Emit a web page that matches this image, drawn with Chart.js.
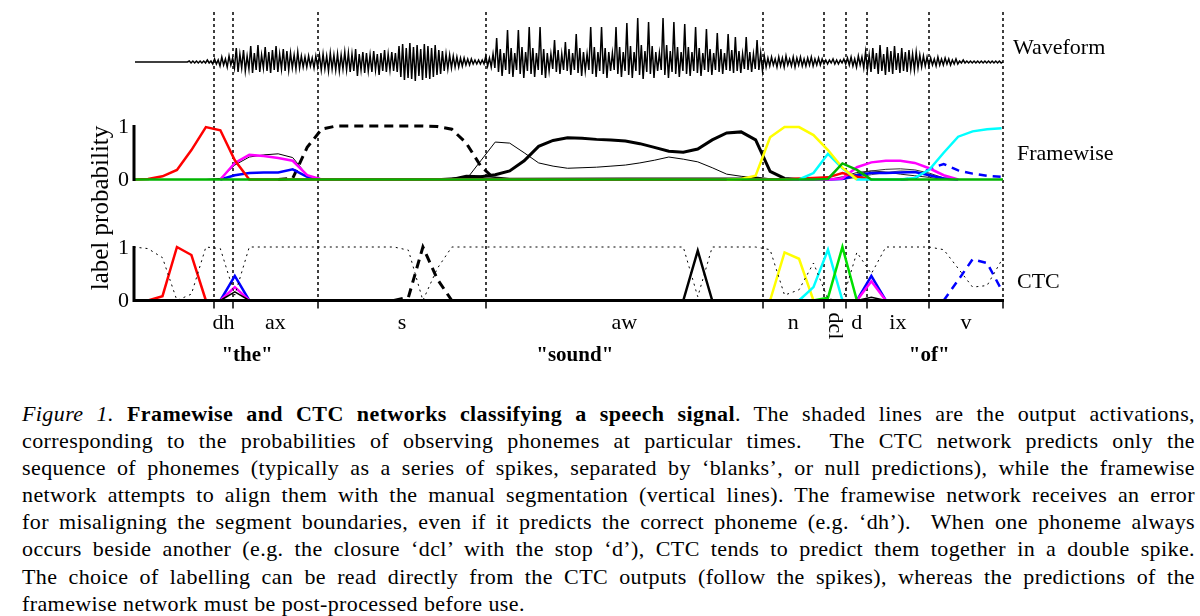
<!DOCTYPE html>
<html>
<head>
<meta charset="utf-8">
<script src="https://cdn.jsdelivr.net/npm/chart.js@4.4.0/dist/chart.umd.min.js"></script>
<style>
  html, body { margin: 0; padding: 0; background: #fff; }
  body { width: 1200px; height: 616px; position: relative; overflow: hidden; }
  #wrap { position: absolute; left: 0; top: 0; width: 1200px; height: 390px; }
  #caption { position: absolute; left: 22px; top: 400px; width: 1173px;
    font-family: "Liberation Serif", serif; font-size: 22px; line-height: 27.1px;
    letter-spacing: 0.4px; color: #000; }
  #caption div { text-align: justify; text-align-last: justify; }
  #caption div.last { text-align-last: left; }
</style>
</head>
<body>
<div id="wrap"><canvas id="speech" width="1200" height="390"></canvas></div>
<div id="caption">
<div><i>Figure 1.</i> <b>Framewise and CTC networks classifying a speech signal</b>. The shaded lines are the output activations,</div>
<div>corresponding to the probabilities of observing phonemes at particular times.&nbsp; The CTC network predicts only the</div>
<div>sequence of phonemes (typically as a series of spikes, separated by ‘blanks’, or null predictions), while the framewise</div>
<div>network attempts to align them with the manual segmentation (vertical lines). The framewise network receives an error</div>
<div>for misaligning the segment boundaries, even if it predicts the correct phoneme (e.g. ‘dh’).&nbsp; When one phoneme always</div>
<div>occurs beside another (e.g. the closure ‘dcl’ with the stop ‘d’), CTC tends to predict them together in a double spike.</div>
<div>The choice of labelling can be read directly from the CTC outputs (follow the spikes), whereas the predictions of the</div>
<div class="last">framewise network must be post-processed before use.</div>
</div>
<script>
// segmentation (in frames) and labels
var boundaries = [4.56, 5.87, 11.75, 23.36, 42.5, 46.7, 48.27, 49.7, 53.97, 59.1];
var phonemes = ['dh', 'ax', 's', 'aw', 'n', 'dcl', 'd', 'ix', 'v'];
var words = ['"the"', '"sound"', '"of"'];
var wordPos = [6.85, 29.5, 54.0];

// waveform: peak / trough per quarter frame, starting at frame -0.9
var waveStart = -0.9, waveStep = 0.25;
var waveUp = [0,0,0,0,0,0,0,0,0,0,0,0,0,0,0,
  1,1,1,1,1,2,1, 3,2,5,3,6,4,
  14,8,12,6,16,9,17,7,15,10,12,16,8,13,11,9,7,10,6,
  5,6,4,6, 7,8,6,9,7,8,7,10,
  9,8,13,8,10,9,7,11,8,9,12,8,10,9,
  16,18,14,19,15,17,13,18,16,14,17,12,11,8,
  7,6,5,4,4,3,3,2,2, 2,6,4,
  8,24,13,9,32,14,9,32,15,10,35,14,9,35,13,9,8,22,12,8,20,13,9,28,14,10,8,35,15,10,
  35,14,10,9,35,15,10,39,16,10,44,17,11,40,16,10,9,44,17,11,40,15,10,38,15,10,35,14,9,33,
  13,9,29,13,9,28,12,25,11,8,25,10,8,22,9,6,
  4,5,3,5,4,6,3,5,4,5,3,4,5,3,4,3, 2,2,3,2,2,3, 4,5,3,6,5,
  10,7,14,9,17,8,15,11,16,9,14,10,12,8,10,7,6,
  5,4,3,5,3,4,3,2,3, 1,2,1,1,1,1,1,1,1,1,1,1,0];
var waveDown = [0,0,0,0,0,0,0,0,0,0,0,0,0,0,0,
  1,1,1,1,1,1,2, 2,4,3,5,3,6,
  10,6,9,7,11,8,10,6,9,11,8,10,7,9,8,6,7,6,5,
  5,4,6,5, 8,7,9,7,8,9,7,8,
  10,9,14,8,11,9,10,8,13,9,10,8,9,10,
  15,18,16,17,19,14,18,16,17,15,13,12,9,7,
  6,5,5,4,3,3,2,2,2, 2,4,5,
  6,10,14,8,12,15,8,12,16,9,12,15,8,13,16,9,7,10,12,8,9,13,8,11,14,9,8,12,15,9,
  12,16,9,8,12,15,9,13,16,9,13,17,10,12,16,9,8,13,16,10,12,15,9,12,14,9,11,14,8,10,
  13,8,10,12,8,9,11,9,11,7,8,10,7,8,9,5,
  4,3,5,4,5,3,4,5,3,4,4,3,4,3,3,2, 2,1,2,2,1,2, 3,4,5,3,6,
  8,10,7,12,9,13,10,12,8,11,9,10,7,8,6,5,4,
  4,3,4,3,3,2,3,2,2, 1,1,1,1,1,1,1,1,1,1,1,1,0];

// framewise outputs [frame, probability]
var fwRed = [[-1,0],[0,0.01],[1,0.06],[2,0.18],[3,0.55],[4,0.98],[5,0.92],[6,0.36],[7,0],[44,0],[45,0.02],[46,0.03],[47,0.04],[48,0.12],[49,0.05],[50,0]];
var fwMagenta = [[5,0],[6,0.31],[7,0.46],[8,0.44],[9,0.4],[10,0.35],[11,0.08],[12,0],[47,0],[48,0.02],[49,0.23],[50,0.32],[51,0.35],[52,0.35],[53,0.31],[54,0.21],[55,0.08],[56,0]];
var fwBlue = [[5,0],[6,0.08],[7,0.12],[8,0.13],[9,0.13],[10,0.19],[11,0.05],[12,0],[47,0],[48,0.01],[49,0.08],[50,0.12],[51,0.12],[52,0.13],[53,0.14],[54,0.08],[55,0.02],[56,0]];
var fwThinAx = [[4,0],[5,0.02],[6,0.27],[7,0.42],[8,0.46],[9,0.48],[10,0.41],[11,0.08],[12,0]];
var fwDashS = [[9,0],[10,0.02],[11,0.6],[12,0.94],[13,1],[14,1],[15,1],[16,1],[17,1],[18,1],[19,1],[20,0.99],[21,0.94],[22,0.68],[23,0.25],[24,0]];
var fwThinAw = [[22,0],[23,0.35],[24,0.7],[25,0.68],[26,0.5],[27,0.31],[28,0.25],[29,0.21],[30,0.22],[31,0.23],[32,0.25],[33,0.27],[34,0.31],[35,0.36],[36,0.42],[37,0.38],[38,0.33],[39,0.22],[40,0.1],[41,0.06],[42,0.03],[43,0]];
var fwThickAw = [[21,0],[22,0.06],[23,0.05],[24,0.09],[25,0.16],[26,0.35],[27,0.62],[28,0.73],[29,0.78],[30,0.77],[31,0.75],[32,0.74],[33,0.72],[34,0.67],[35,0.6],[36,0.53],[37,0.51],[38,0.57],[39,0.74],[40,0.87],[41,0.89],[42,0.74],[43,0.15],[44,0.02],[45,0]];
var fwYellow = [[40,0],[41,0.01],[42,0.07],[43,0.79],[44,0.98],[45,0.98],[46,0.83],[47,0.55],[48,0.22],[49,0]];
var fwCyan = [[45,0],[46,0.12],[47,0.48],[48,0.21],[49,0],[52,0],[53,0.03],[54,0.18],[55,0.5],[56,0.8],[57,0.9],[58,0.94],[59,0.96]];
var fwGreen = [[-1,0],[46,0],[47,0.01],[48,0.3],[49,0.18],[50,0],[60,0]];
var fwBlueDash = [[52,0],[53,0.02],[54,0.2],[55,0.29],[56,0.17],[57,0.11],[58,0.07],[59,0.05]];
var fwGray1 = [[47,0],[48,0.02],[49,0.1],[50,0.16],[51,0.19],[52,0.2],[53,0.18],[54,0.12],[55,0.03],[56,0]];
var fwGray2 = [[48,0],[49,0.04],[50,0.09],[51,0.13],[52,0.16],[53,0.15],[54,0.1],[55,0.02],[56,0]];
var fwGray3 = [[47,0],[48,0.05],[49,0.13],[50,0.16],[51,0.14],[52,0.1],[53,0.07],[54,0.04],[55,0]];
var fwLow = [[15,0],[20,0.01],[22,0.04],[23,0.06],[24,0.04],[25,0.02],[41,0.03],[42,0.04],[43,0.01],[44,0]];

// CTC outputs [frame, probability]
var ctcBlank = [[-1,1],[0,0.97],[1,0.8],[2,0],[3,0.12],[4,1],[5,0.97],[6,0.1],[7,1],[17,1],[18,0.94],[19,0],[20,0.6],[21,1],[37,1],[38,0.07],[39,1],[42,1],[43,0.95],[44,0.1],[45,0.2],[46,0.7],[47,0.03],[48,0],[49,0.9],[50,0.5],[51,1],[54,1],[55,0.95],[56,0.6],[57,0.25],[58,0.28],[59,0.75]];
var ctcRed = [[0,0],[1,0.08],[2,1],[3,0.85],[4,0]];
var ctcBlue = [[5,0],[6,0.46],[7,0],[49,0],[50,0.46],[51,0]];
var ctcMagenta = [[5,0],[6,0.25],[7,0],[49,0],[50,0.36],[51,0]];
var ctcBlackSmall = [[5,0],[6,0.16],[7,0],[49,0],[50,0.06],[51,0]];
var ctcDashS = [[17,0],[18,0.06],[19,1],[20,0.4],[21,0]];
var ctcAw = [[37,0],[38,0.93],[39,0]];
var ctcYellow = [[43,0],[44,0.9],[45,0.78],[46,0]];
var ctcCyan = [[45,0],[46,0.25],[47,0.95],[48,0]];
var ctcGreen = [[46,0],[47,0.05],[48,1],[49,0]];
var ctcBlueDash = [[55,0],[56,0.38],[57,0.77],[58,0.7],[59,0.2]];

// waveform drawn as peak/trough zigzag
var wavePts = [];
waveUp.forEach(function (u, i) {
  var x = waveStart + i * waveStep;
  wavePts.push([x, u]);
  wavePts.push([x + waveStep / 2, -waveDown[i]]);
});

function line(data, axis, color, width, dash) {
  return {
    data: data.map(function (p) { return { x: p[0], y: p[1] }; }),
    yAxisID: axis, borderColor: color, borderWidth: width,
    borderDash: dash || [], pointRadius: 0, tension: 0, fill: false
  };
}

// place each panel: value 0 at zeroPx, unitPx pixels per unit
function band(zeroPx, unitPx) {
  return { display: false, min: -(390 - zeroPx) / unitPx, max: zeroPx / unitPx };
}

var serif = '"Liberation Serif", "Times New Roman", serif';

var decor = {
  id: 'decor',
  beforeDatasetsDraw: function (chart) {
    var ctx = chart.ctx, x = chart.scales.x, yC = chart.scales.yC;
    ctx.save();
    ctx.strokeStyle = '#000';
    ctx.lineWidth = 1.5;
    ctx.setLineDash([3, 3]);
    boundaries.forEach(function (b) {
      var px = Math.round(x.getPixelForValue(b));
      ctx.beginPath();
      ctx.moveTo(px, 12);
      ctx.lineTo(px, yC.getPixelForValue(0));
      ctx.stroke();
    });
    ctx.restore();
  },
  afterDatasetsDraw: function (chart) {
    var ctx = chart.ctx, x = chart.scales.x, yF = chart.scales.yF, yC = chart.scales.yC;
    var left = x.getPixelForValue(x.min) - 1, right = x.getPixelForValue(x.max);
    ctx.save();
    ctx.strokeStyle = '#000';
    ctx.lineWidth = 3;
    ctx.beginPath();
    ctx.moveTo(left, yF.getPixelForValue(1) - 1); ctx.lineTo(left, yF.getPixelForValue(0) + 1.5);
    ctx.moveTo(left, yC.getPixelForValue(1) - 1); ctx.lineTo(left, yC.getPixelForValue(0) + 1.5);
    ctx.moveTo(left - 1.5, yC.getPixelForValue(0)); ctx.lineTo(right + 1, yC.getPixelForValue(0));
    ctx.stroke();
    ctx.lineWidth = 1.5;
    ctx.beginPath();
    boundaries.forEach(function (b) {
      var px = Math.round(x.getPixelForValue(b));
      ctx.moveTo(px, yC.getPixelForValue(0)); ctx.lineTo(px, yC.getPixelForValue(0) + 8);
    });
    ctx.stroke();

    ctx.fillStyle = '#000';
    ctx.font = '22px ' + serif;
    ctx.textAlign = 'right';
    ctx.textBaseline = 'middle';
    [[yF, 1], [yF, 0], [yC, 1], [yC, 0]].forEach(function (t) {
      ctx.fillText(String(t[1]), left - 5, t[0].getPixelForValue(t[1]) + 1);
    });

    // phoneme labels at segment centres
    ctx.textAlign = 'center';
    ctx.textBaseline = 'alphabetic';
    phonemes.forEach(function (p, i) {
      var cx = (x.getPixelForValue(boundaries[i]) + x.getPixelForValue(boundaries[i + 1])) / 2;
      if (p === 'dcl') {
        ctx.save();
        ctx.translate(cx, 326);
        ctx.rotate(Math.PI / 2);
        ctx.textBaseline = 'middle';
        ctx.fillText(p, 0, 0);
        ctx.restore();
      } else {
        ctx.fillText(p, cx, 329);
      }
    });

    ctx.font = 'bold 21px ' + serif;
    words.forEach(function (w, i) {
      ctx.fillText(w, x.getPixelForValue(wordPos[i]), 361);
    });

    ctx.font = '22px ' + serif;
    ctx.textAlign = 'left';
    ctx.fillText('Waveform', right + 10, 54);
    ctx.fillText('Framewise', right + 14, 160);
    ctx.fillText('CTC', right + 14, 288);

    ctx.font = '25px ' + serif;
    ctx.textAlign = 'center';
    ctx.textBaseline = 'middle';
    ctx.translate(101, 208);
    ctx.rotate(-Math.PI / 2);
    ctx.fillText('label probability', 0, 0);
    ctx.restore();
  }
};

var ctx = document.getElementById('speech');
var speechChart = new Chart(ctx, {
  type: 'line',
  data: {
    // first dataset is drawn on top
    datasets: [
      line(fwGreen, 'yF', '#00b400', 2.5),
      line(fwYellow, 'yF', '#ffff00', 2.5),
      line(fwCyan, 'yF', '#00ffff', 2.5),
      line(fwRed, 'yF', '#ff0000', 2.5),
      line(fwMagenta, 'yF', '#ff00ff', 2.5),
      line(fwBlue, 'yF', '#0000ff', 2.5),
      line(fwBlueDash, 'yF', '#0000ff', 2.5, [8, 6]),
      line(fwDashS, 'yF', '#000', 3, [9, 6]),
      line(fwThickAw, 'yF', '#000', 3),
      line(fwThinAw, 'yF', '#000', 1),
      line(fwThinAx, 'yF', '#000', 1),
      line(fwGray1, 'yF', '#333', 1),
      line(fwGray2, 'yF', '#555', 1),
      line(fwGray3, 'yF', '#222', 1),
      line(fwLow, 'yF', '#111', 1.5),
      line(ctcBlank, 'yC', '#000', 1, [2, 4]),
      line(ctcGreen, 'yC', '#00e000', 2.5),
      line(ctcCyan, 'yC', '#00ffff', 2.5),
      line(ctcYellow, 'yC', '#ffff00', 2.5),
      line(ctcRed, 'yC', '#ff0000', 2.5),
      line(ctcBlackSmall, 'yC', '#000', 1.5),
      line(ctcMagenta, 'yC', '#ff00ff', 2.5),
      line(ctcBlue, 'yC', '#0000ff', 2.5),
      line(ctcBlueDash, 'yC', '#0000ff', 2.5, [8, 6]),
      line(ctcDashS, 'yC', '#000', 3, [9, 6]),
      line(ctcAw, 'yC', '#000', 2.5),
      line(wavePts, 'yW', '#000', 1.5)
    ]
  },
  options: {
    responsive: false,
    devicePixelRatio: 1,
    animation: false,
    layout: { padding: { left: 135, right: 197, top: 0, bottom: 0 } },
    plugins: { legend: { display: false }, tooltip: { enabled: false } },
    scales: {
      x: { type: 'linear', display: false, min: -0.9, max: 59.1 },
      yW: band(62, 1),
      yF: band(179.5, 53.5),
      yC: band(300.5, 53.5)
    }
  },
  plugins: [decor]
});
</script>
</body>
</html>
